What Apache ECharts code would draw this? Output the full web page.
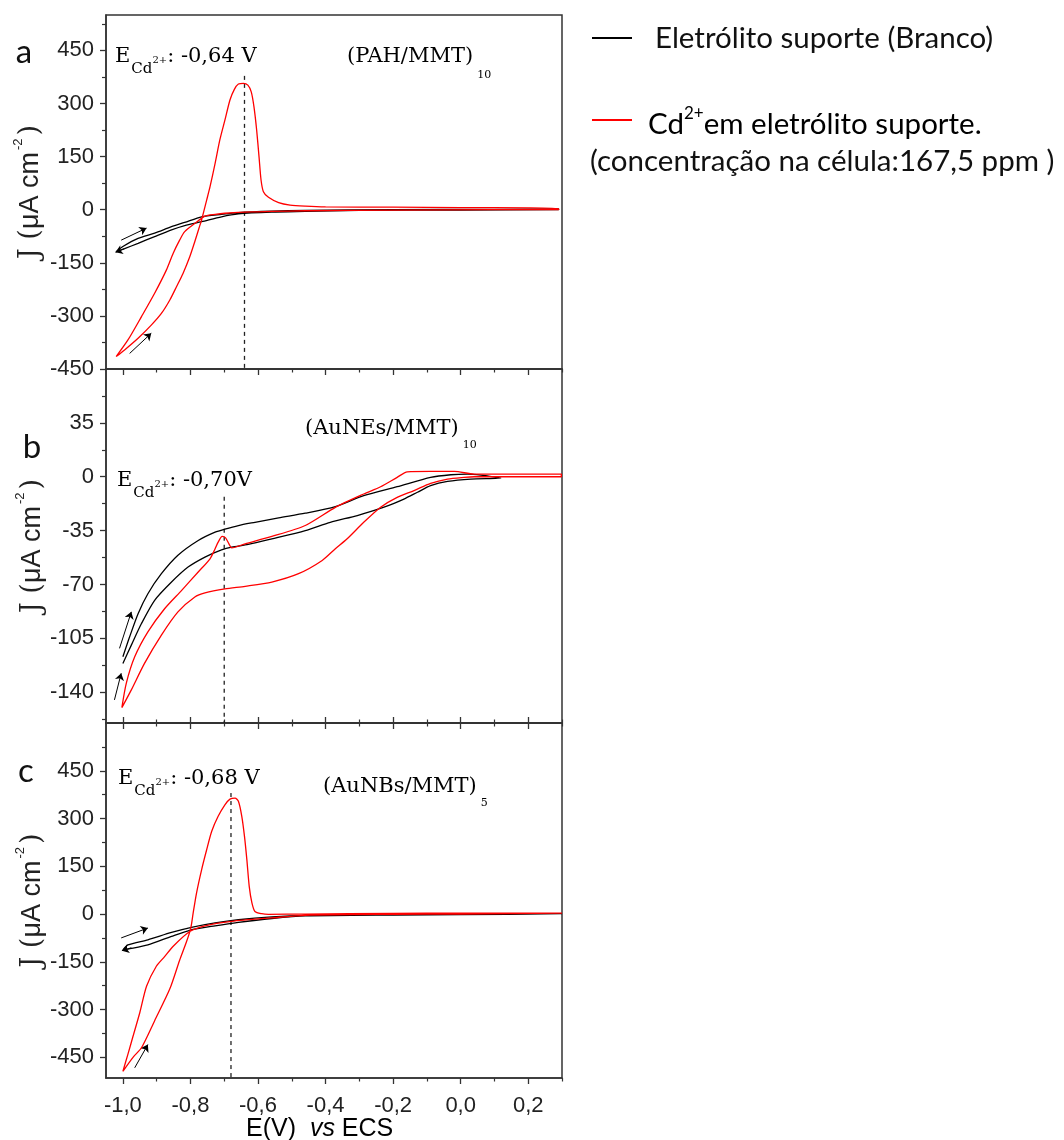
<!DOCTYPE html>
<html>
<head>
<meta charset="utf-8">
<script src="https://cdn.jsdelivr.net/npm/echarts@6/dist/echarts.min.js"></script>
<style>
  html, body { margin: 0; padding: 0; background: #fff; }
  #chart { width: 1064px; height: 1140px; }
</style>
</head>
<body>
<div id="chart"></div>
<script>
// ---- Potential axis (V vs ECS), shared by the three voltammograms ----
const xMajorTicks = [-1.0, -0.8, -0.6, -0.4, -0.2, 0.0, 0.2];
const xMinorTicks = [-0.9, -0.7, -0.5, -0.3, -0.1, 0.1, 0.3];

// ---- Current density ticks (µA cm-2) ----
const yMajorA = [-450, -300, -150, 0, 150, 300, 450];
const yMinorA = [-375, -225, -75, 75, 225, 375, 525];
const yMajorB = [-140, -105, -70, -35, 0, 35];
const yMinorB = [-157.5, -122.5, -87.5, -52.5, -17.5, 17.5, 52.5];
const yMajorC = [-450, -300, -150, 0, 150, 300, 450];
const yMinorC = [-375, -225, -75, 75, 225, 375, 525];

// ---- Cd stripping peak potentials (V) ----
const peakA = -0.64;
const peakB = -0.70;
const peakC = -0.68;

// ---- (PAH/MMT)10 : [E (V), J (µA cm-2)] ----
const blankA = [
  [-1.020, -119], [-1.000, -104], [-0.955, -81], [-0.906, -66], [-0.856, -48], [-0.817, -36],
  [-0.767, -20], [-0.708, -13], [-0.658, -8], [-0.560, -4], [-0.460, -2], [-0.200, 0], [0.100, 1], [0.290, 2],
  [0.290, 0], [0.000, -1], [-0.300, -2], [-0.460, -5], [-0.560, -7], [-0.658, -12], [-0.708, -20],
  [-0.767, -34], [-0.817, -45], [-0.856, -57], [-0.906, -76], [-0.955, -95], [-0.995, -110], [-1.020, -119]
];
const cdA = [
  [-1.020, -415], [-0.995, -396], [-0.955, -363], [-0.916, -326], [-0.886, -293], [-0.861, -255],
  [-0.841, -217], [-0.822, -180], [-0.802, -133], [-0.787, -90], [-0.775, -53], [-0.767, -29],
  [-0.752, 27], [-0.742, 65], [-0.727, 131], [-0.713, 197], [-0.698, 253], [-0.683, 310], [-0.670, 340],
  [-0.658, 355], [-0.643, 357], [-0.630, 352], [-0.620, 333], [-0.612, 291], [-0.604, 225], [-0.597, 150],
  [-0.591, 84], [-0.584, 51], [-0.569, 35], [-0.539, 20], [-0.505, 13], [-0.460, 10], [-0.400, 8],
  [-0.200, 7], [0.000, 6], [0.200, 5], [0.290, 3],
  [0.290, 0], [0.100, 0], [-0.200, -1], [-0.460, -3], [-0.560, -5], [-0.619, -6], [-0.698, -10],
  [-0.727, -13], [-0.757, -18], [-0.787, -39], [-0.817, -62], [-0.832, -86], [-0.851, -123],
  [-0.871, -170], [-0.906, -236], [-0.945, -302], [-0.985, -368], [-1.020, -415]
];

// ---- (AuNEs/MMT)10 ----
const blankB = [
  [-1.000, -117], [-0.980, -104], [-0.955, -89], [-0.926, -76], [-0.886, -63], [-0.837, -51],
  [-0.777, -41.4], [-0.727, -36], [-0.698, -34], [-0.658, -31.7], [-0.609, -29.6], [-0.539, -26.7],
  [-0.460, -23.7], [-0.371, -19.4], [-0.287, -12.3], [-0.188, -6.5], [-0.089, -0.4], [-0.029, 1.3],
  [0.020, 1.7], [0.060, 1.0], [0.119, -0.9],
  [0.030, -1.5], [-0.039, -3.0], [-0.089, -5.8], [-0.128, -10.1], [-0.168, -14.5], [-0.227, -19.8],
  [-0.306, -25.2], [-0.386, -29.6], [-0.460, -35], [-0.559, -40.4], [-0.629, -44], [-0.678, -45.7],
  [-0.708, -47.5], [-0.757, -52.2], [-0.807, -58.7], [-0.856, -68.4], [-0.906, -80.3], [-0.945, -95.4],
  [-0.975, -109.4], [-1.000, -121.3]
];
const cdB = [
  [-1.003, -150], [-0.990, -134.2], [-0.965, -117], [-0.926, -100.8], [-0.876, -85.6], [-0.826, -73.8],
  [-0.777, -61.9], [-0.742, -53.3], [-0.727, -46.8], [-0.718, -42.5], [-0.706, -38.8], [-0.696, -39.7],
  [-0.686, -43.6], [-0.678, -46.2], [-0.638, -43.6], [-0.559, -38.8], [-0.460, -31.7], [-0.371, -19.9],
  [-0.287, -11.2], [-0.237, -6.5], [-0.188, -0.4], [-0.158, 3.2], [-0.089, 3.5], [-0.019, 3.5],
  [0.040, 1.7], [0.298, 1.7],
  [0.298, 0], [0.040, 0], [0.010, -0.4], [-0.039, -1.5], [-0.089, -4.3], [-0.138, -9], [-0.188, -13.4],
  [-0.237, -19.8], [-0.287, -29.6], [-0.336, -40.3], [-0.371, -46.8], [-0.410, -54.4], [-0.480, -63],
  [-0.559, -68.4], [-0.638, -71.2], [-0.698, -72.9], [-0.757, -75.5], [-0.787, -78.1], [-0.837, -87.8],
  [-0.886, -102.9], [-0.936, -121.3], [-0.975, -138.5], [-1.003, -150]
];

// ---- (AuNBs/MMT)5 ----
const blankC = [
  [-1.000, -113], [-0.985, -97], [-0.926, -81], [-0.856, -58], [-0.797, -42], [-0.727, -28],
  [-0.658, -18], [-0.559, -9], [-0.460, -4], [-0.200, -1], [0.100, 0], [0.300, 1],
  [0.300, -1], [0.000, -2], [-0.200, -3], [-0.460, -6], [-0.559, -14], [-0.658, -26], [-0.727, -37],
  [-0.802, -51], [-0.856, -70], [-0.926, -97], [-0.985, -110], [-1.000, -113]
];
const cdC = [
  [-1.000, -494], [-0.970, -450], [-0.945, -420], [-0.906, -335], [-0.861, -235], [-0.832, -145], [-0.812, -88],
  [-0.799, -44], [-0.792, 3], [-0.782, 66], [-0.767, 139], [-0.752, 202], [-0.737, 260], [-0.718, 307],
  [-0.698, 343], [-0.683, 361], [-0.668, 364], [-0.658, 354], [-0.648, 307], [-0.640, 244], [-0.633, 171],
  [-0.626, 87], [-0.618, 35], [-0.609, 8], [-0.589, 1], [-0.569, -1], [-0.460, 0], [-0.200, 2],
  [0.000, 3], [0.300, 3],
  [0.300, 1], [0.000, 0], [-0.200, -1], [-0.460, -4], [-0.559, -12], [-0.678, -23], [-0.757, -37],
  [-0.802, -55], [-0.851, -101], [-0.876, -133], [-0.901, -164], [-0.930, -227], [-0.950, -310],
  [-0.970, -384], [-0.985, -440], [-1.000, -494]
];

// ---- scan-direction arrows: [start, end] ----
const arrowsA = [[[-0.980, -406], [-0.916, -349]], [[-1.005, -86], [-0.930, -52]], [[-0.995, -110], [-1.022, -120]]];
const arrowsB = [[[-1.010, -111.5], [-0.975, -87.8]], [[-1.025, -145], [-1.005, -127.7]]];
const arrowsC = [[[-0.965, -483], [-0.926, -410]], [[-1.005, -75], [-0.926, -44]], [[-0.975, -106], [-1.003, -115]]];

// ---------------------------------------------------------------------------
const AXIS_COLOR = '#333';
const TICK_FONT = 'Liberation Sans';
const SERIF = 'DejaVu Serif';
const LEGEND_FONT = 'Lato';

const fmtComma = v => (Math.abs(v) < 1e-9 ? '0,0' : v.toFixed(1).replace('.', ','));

function xPair(gridIndex, position, inside, withLabels) {
  const base = {
    type: 'value', gridIndex, position, min: -1.05, max: 0.3,
    splitLine: { show: false },
    axisLine: { show: true, onZero: false, lineStyle: { color: AXIS_COLOR, width: 1.5 } }
  };
  const major = Object.assign({}, base, {
    axisTick: { show: true, inside, length: 6, customValues: xMajorTicks, lineStyle: { color: AXIS_COLOR, width: 1.3 } },
    axisLabel: withLabels
      ? { show: true, customValues: xMajorTicks, formatter: fmtComma, margin: 17,
          fontFamily: TICK_FONT, fontSize: 22, color: '#222' }
      : { show: false }
  });
  const minor = Object.assign({}, base, {
    axisLine: { show: false, onZero: false },
    axisTick: { show: true, inside, length: 3.5, customValues: xMinorTicks, lineStyle: { color: AXIS_COLOR, width: 1.2 } },
    axisLabel: { show: false }
  });
  return [major, minor];
}

function yPair(gridIndex, min, max, majorTicks, minorTicks, nameGap) {
  const base = {
    type: 'value', gridIndex, position: 'left', min, max,
    splitLine: { show: false },
    axisLine: { show: true, onZero: false, lineStyle: { color: AXIS_COLOR, width: 1.5 } }
  };
  const major = Object.assign({}, base, {
    axisTick: { show: true, length: 6, customValues: majorTicks, lineStyle: { color: AXIS_COLOR, width: 1.3 } },
    axisLabel: { show: true, customValues: majorTicks, margin: 12, fontFamily: TICK_FONT, fontSize: 22, color: '#222' },
    name: '{j|J (}{u|μA cm}{p|-2}{j|)}',
    nameLocation: 'middle',
    nameGap,
    nameRotate: 90,
    nameTextStyle: {
      color: '#222',
      rich: {
        j: { fontFamily: SERIF, fontSize: 27, lineHeight: 32, verticalAlign: 'bottom', color: '#222' },
        u: { fontFamily: TICK_FONT, fontSize: 27, lineHeight: 32, verticalAlign: 'bottom', color: '#222' },
        p: { fontFamily: TICK_FONT, fontSize: 13, lineHeight: 10, verticalAlign: 'top', color: '#222', padding: [0, 3, 0, 2] }
      }
    }
  });
  const minor = Object.assign({}, base, {
    axisLine: { show: false, onZero: false },
    axisTick: { show: true, length: 4, customValues: minorTicks, lineStyle: { color: AXIS_COLOR, width: 1.2 } },
    axisLabel: { show: false }
  });
  return [major, minor];
}

const grids = [
  { left: 106, top: 15, width: 456, height: 354 },
  { left: 106, top: 369, width: 456, height: 354 },
  { left: 106, top: 723, width: 456, height: 355 }
].map(g => Object.assign(g, { show: true, borderColor: AXIS_COLOR, borderWidth: 1.5, backgroundColor: 'transparent' }));

const xAxes = [
  ...xPair(0, 'bottom', false, false),   // 0,1 : ticks reaching into panel b
  ...xPair(1, 'bottom', true, false),    // 2,3
  ...xPair(2, 'top', true, false),       // 4,5
  ...xPair(2, 'bottom', false, true)     // 6,7
];
const yAxes = [
  ...yPair(0, -450, 550, yMajorA, yMinorA, 62),
  ...yPair(1, -160, 70, yMajorB, yMinorB, 57),
  ...yPair(2, -515, 600, yMajorC, yMinorC, 53)
];

function curve(data, color, xi, yi) {
  return {
    type: 'line', data, xAxisIndex: xi, yAxisIndex: yi,
    showSymbol: false, symbol: 'none', smooth: 0.25,
    lineStyle: { color, width: 1.3 }, silent: true
  };
}
function peakLine(x, yTop, yBottom, xi, yi) {
  return {
    type: 'line', data: [[x, yTop], [x, yBottom]], xAxisIndex: xi, yAxisIndex: yi,
    showSymbol: false, symbol: 'none',
    lineStyle: { color: '#222', width: 1.3, type: [4, 4] }, silent: true
  };
}
function arrows(list, xi, yi) {
  return {
    type: 'lines', coordinateSystem: 'cartesian2d', xAxisIndex: xi, yAxisIndex: yi,
    symbol: ['none', 'arrow'], symbolSize: 7,
    lineStyle: { color: '#000', width: 1, opacity: 1 },
    data: list.map(c => ({ coords: c })), silent: true
  };
}

const series = [
  peakLine(peakA, 378, -450, 0, 0),
  curve(blankA, '#000', 0, 0),
  curve(cdA, '#ff0000', 0, 0),
  arrows(arrowsA, 0, 0),

  peakLine(peakB, -13, -160, 2, 2),
  curve(blankB, '#000', 2, 2),
  curve(cdB, '#ff0000', 2, 2),
  arrows(arrowsB, 2, 2),

  peakLine(peakC, 380, -515, 6, 4),
  curve(blankC, '#000', 6, 4),
  curve(cdC, '#ff0000', 6, 4),
  arrows(arrowsC, 6, 4)
];

// rich styles for the in-plot annotations (top padding lowers subscripts)
const eRich = {
  m: { fontFamily: SERIF, fontSize: 21, verticalAlign: 'top', color: '#222' },
  s: { fontFamily: SERIF, fontSize: 15, verticalAlign: 'top', color: '#222', padding: [15, 0, 0, 1] },
  p: { fontFamily: SERIF, fontSize: 10, verticalAlign: 'top', color: '#222', padding: [9, 0, 0, 0] }
};
function eLabel(x, centerY, value) {
  return {
    type: 'text', x, y: centerY - 10.5, silent: true,
    style: { text: '{m|E}{s|Cd}{p|2+}{m|: ' + value + '}', rich: eRich, align: 'left', verticalAlign: 'top' }
  };
}
function filmLabel(x, centerY, film, sub, subDrop) {
  return {
    type: 'text', x, y: centerY - 10.5, silent: true,
    style: {
      text: '{m|' + film + '}{s|' + sub + '}', align: 'left', verticalAlign: 'top',
      rich: {
        m: { fontFamily: SERIF, fontSize: 21, verticalAlign: 'top', color: '#222' },
        s: { fontFamily: SERIF, fontSize: 11, verticalAlign: 'top', color: '#222', padding: [5 + subDrop, 0, 0, 4] }
      }
    }
  };
}
function panelLetter(ch, x, y) {
  return {
    type: 'text', x, y, silent: true,
    style: { text: ch, font: '33px ' + LEGEND_FONT, fill: '#111', align: 'center', verticalAlign: 'middle' }
  };
}

const graphic = [
  panelLetter('a', 24, 52),
  panelLetter('b', 32, 447),
  panelLetter('c', 26, 771),

  eLabel(115, 57, '-0,64 V'),
  eLabel(117, 481, '-0,70V'),
  eLabel(118, 779, '-0,68 V'),

  filmLabel(347, 57, '(PAH/MMT)', '10', 18),
  filmLabel(305, 429, '(AuNEs/MMT)', '10', 16),
  filmLabel(323, 787, '(AuNBs/MMT)', '5', 16),

  // x-axis title
  {
    type: 'text', x: 246, y: 1129, silent: true,
    style: {
      text: '{n|E(V)  }{i|vs}{n| ECS}', align: 'left', verticalAlign: 'middle',
      rich: {
        n: { fontFamily: TICK_FONT, fontSize: 25, color: '#222' },
        i: { fontFamily: TICK_FONT, fontSize: 25, fontStyle: 'italic', color: '#222' }
      }
    }
  },

  // legend
  { type: 'line', silent: true, shape: { x1: 592, y1: 38, x2: 632, y2: 38 }, style: { stroke: '#000', lineWidth: 1.8 } },
  {
    type: 'text', x: 655, y: 38, silent: true,
    style: { text: 'Eletrólito suporte (Branco)', font: '29.5px ' + LEGEND_FONT, fill: '#111', align: 'left', verticalAlign: 'middle' }
  },
  { type: 'line', silent: true, shape: { x1: 592, y1: 120, x2: 632, y2: 120 }, style: { stroke: '#ff0000', lineWidth: 1.8 } },
  {
    type: 'text', x: 648, y: 105, silent: true,
    style: {
      text: '{n|Cd}{p|2+}{n|em eletrólito suporte.}', align: 'left', verticalAlign: 'top',
      rich: {
        n: { fontFamily: LEGEND_FONT, fontSize: 29.5, lineHeight: 34, verticalAlign: 'bottom', color: '#111' },
        p: { fontFamily: LEGEND_FONT, fontSize: 17, lineHeight: 20, verticalAlign: 'top', color: '#111' }
      }
    }
  },
  {
    type: 'text', x: 590, y: 161, silent: true,
    style: { text: '(concentração na célula:167,5 ppm )', font: '29.5px ' + LEGEND_FONT, fill: '#111', align: 'left', verticalAlign: 'middle' }
  }
];

const chart = echarts.init(document.getElementById('chart'), null, { renderer: 'canvas' });
chart.setOption({
  animation: false,
  backgroundColor: '#ffffff',
  grid: grids,
  xAxis: xAxes,
  yAxis: yAxes,
  series,
  graphic
});
</script>
</body>
</html>
